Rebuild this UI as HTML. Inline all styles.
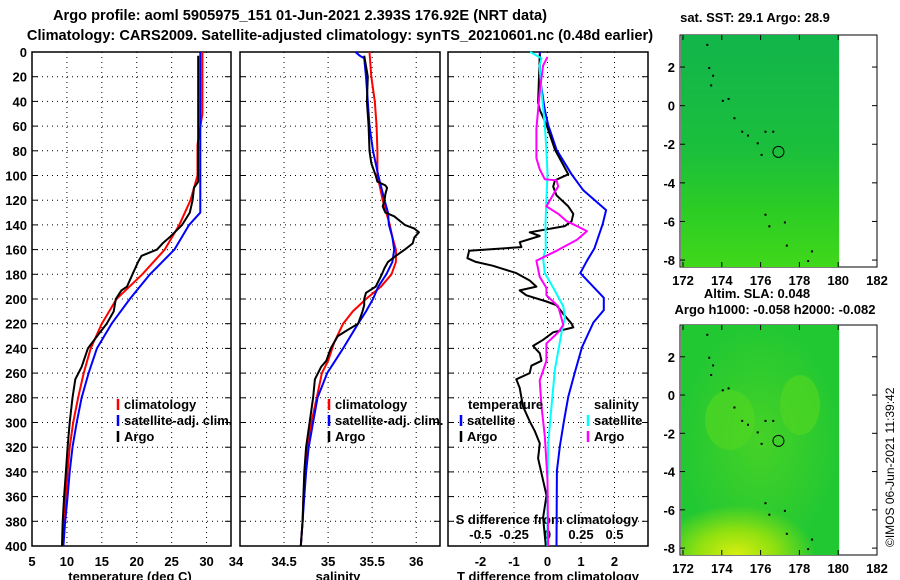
<!DOCTYPE html>
<html><head><meta charset="utf-8"><style>
body{margin:0;background:#fff}
svg{display:block;font-family:"Liberation Sans",sans-serif;font-weight:bold}
text{font-size:13px;fill:#000}
text.ttl{font-size:14.6px}
</style></head><body>
<svg id="s" width="900" height="580" viewBox="0 0 900 580">
<defs>
<linearGradient id="g1" x1="0" y1="0" x2="0" y2="1"><stop offset="0" stop-color="#12b54a"/><stop offset="0.5" stop-color="#1bbf3c"/><stop offset="0.75" stop-color="#2ccc25"/><stop offset="1" stop-color="#40d81a"/></linearGradient>
<radialGradient id="y2" cx="0.35" cy="1" r="0.5"><stop offset="0" stop-color="#d8ee10"/><stop offset="0.5" stop-color="#8fe010"/><stop offset="1" stop-color="#8fe010" stop-opacity="0"/></radialGradient>
<radialGradient id="y3" cx="0.5" cy="0.5" r="0.5"><stop offset="0" stop-color="#5ed820"/><stop offset="1" stop-color="#5ed820" stop-opacity="0"/></radialGradient>
</defs>
<text class="ttl" x="300" y="20" text-anchor="middle">Argo profile: aoml 5905975_151 01-Jun-2021 2.393S 176.92E (NRT data)</text>
<text class="ttl" x="340" y="40" text-anchor="middle">Climatology: CARS2009. Satellite-adjusted climatology: synTS_20210601.nc (0.48d earlier)</text>
<g id="plots"></g>
</svg>
<script>
// Temperature panel data
const tDepthClim=[0,50,75,100,120,140,160,180,200,220,240,260,280,300,320,340,360,380,400];
const tClim=[29.4,29.4,28.7,28.7,27.7,26.1,24.0,20.8,17.1,15.0,13.4,12.4,11.6,10.9,10.4,10.1,9.85,9.6,9.4];
const tDepthSat=[0,130,140,160,180,200,220,240,260,280,300,320,340,360,380,400];
const tSat=[29.1,29.1,27.5,25.4,21.9,19.0,16.4,14.3,13.1,12.1,11.4,10.8,10.4,10.1,9.75,9.5];
const tDepthArgo=[3,105,110,120,130,140,150,155,160,165,170,180,190,193,200,210,220,228,240,255,265,280,300,320,340,360,380,400];
const tArgo=[28.8,28.8,28.2,28.0,27.6,26.5,24.7,23.7,22.9,20.7,20.2,19.4,18.6,17.8,17.0,16.7,15.7,14.6,13.0,12.1,11.2,10.8,10.4,10.1,9.85,9.6,9.4,9.3];
// Salinity panel data
const sDepthClim=[0,20,40,60,80,100,110,120,140,150,160,170,180,190,200,210,220,235,250,260,280,300,320,340,360,380,400];
const sClim=[35.47,35.49,35.53,35.55,35.56,35.56,35.59,35.62,35.70,35.73,35.77,35.77,35.72,35.60,35.43,35.28,35.17,35.07,35.0,34.93,34.87,34.81,34.77,34.74,34.72,34.71,34.69];
const sDepthSat=[0,3,5,20,40,60,80,100,120,130,140,150,160,170,180,190,200,210,220,240,260,280,300,320,340,360,380,400];
const sSat=[35.31,35.36,35.41,35.43,35.45,35.47,35.51,35.57,35.64,35.68,35.69,35.73,35.75,35.73,35.66,35.57,35.51,35.43,35.34,35.17,34.99,34.88,34.83,34.78,34.75,34.73,34.71,34.69];
const sDepthArgo=[3,20,40,60,80,90,100,105,108,110,115,120,125,130,133,140,143,146,150,155,160,165,170,175,180,190,195,200,205,210,220,226,230,240,250,255,265,280,300,320,340,360,380,400];
const sArgo=[35.41,35.45,35.44,35.46,35.47,35.49,35.54,35.56,35.65,35.67,35.65,35.64,35.62,35.65,35.75,35.87,35.98,36.03,35.98,35.96,35.87,35.77,35.68,35.64,35.61,35.54,35.43,35.41,35.41,35.39,35.34,35.20,35.11,35.03,34.98,34.92,34.85,34.83,34.79,34.75,34.73,34.72,34.71,34.69];
// Difference panel data
const dDepthTSat=[0,20,40,47,59,79,99,112,128,139,159,169,179,199,209,219,239,259,279,299,319,339,400];
const dTSat=[-0.23,-0.23,-0.12,-0.08,0.02,0.27,0.72,1.07,1.75,1.65,1.4,1.18,0.98,1.68,1.68,1.37,1.03,0.82,0.62,0.49,0.37,0.28,0.27];
const dDepthTArgo=[2,41,47,59,79,89,99,104,109,116,125,131,137,141,146,149,154,158,161,167,170,173,179,185,190,193,197,202,205,212,220,223,227,233,238,244,250,254,260,265,272,287,299,307,317,329,347,359,377,400];
const dTArgo=[-0.23,-0.28,-0.23,-0.03,0.22,0.42,0.62,0.22,0.17,0.27,0.62,0.77,0.72,0.52,-0.53,-0.23,-0.83,-0.78,-2.34,-2.39,-2.14,-1.64,-0.93,-0.53,-0.33,-0.83,-0.63,-0.03,0.27,0.47,0.72,0.77,0.17,-0.13,-0.43,-0.23,-0.18,-0.48,-0.53,-0.93,-0.83,-0.73,-0.53,-0.38,-0.23,-0.28,-0.13,-0.03,-0.13,-0.05];
const dDepthSSat=[0,5,11,32,59,79,99,119,139,159,167,179,191,206,215,227,257,287,317,347,400];
const dSSat=[-0.13,-0.045,-0.06,-0.045,-0.02,-0.008,0,-0.008,-0.015,-0.013,-0.033,-0.02,0.043,0.118,0.13,0.105,0.055,0.03,0.005,0,0];
const dDepthSArgo=[4,11,32,47,62,86,95,103,104,109,113,125,131,137,141,145,152,161,169,182,191,197,206,221,227,236,250,266,287,311,332,347,400];
const dSArgo=[0,-0.033,-0.058,-0.07,-0.083,-0.083,-0.058,-0.02,0.068,0.08,0.055,-0.008,0.08,0.143,0.22,0.294,0.22,0.068,-0.083,-0.058,-0.008,-0.008,0.08,0.118,0.08,-0.008,-0.008,-0.058,-0.045,-0.02,-0.008,0,0.005];
const depthTicks=[0,20,40,60,80,100,120,140,160,180,200,220,240,260,280,300,320,340,360,380,400];
const tTicks=[5,10,15,20,25,30];
const sTicks=[34.5,35,35.5,36];
const dTTicks=[-2,-1,0,1,2];
const dSTicks=[-0.5,-0.25,0,0.25,0.5];

const NS='http://www.w3.org/2000/svg';
const G=document.getElementById('plots');
function el(tag,attrs,parent){const e=document.createElementNS(NS,tag);for(const k in attrs)e.setAttribute(k,attrs[k]);(parent||G).appendChild(e);return e;}
const Y0=52,Y1=546;
function yOf(d){return Y0+d*(Y1-Y0)/400;}
function sc(d0,d1,p0,p1){return v=>p0+(v-d0)*(p1-p0)/(d1-d0);}
const xT=sc(5,33.5,32,231), xS=sc(34,36.27,240,440), xD=sc(-2.97,3.0,448,648), xDS=v=>xD(v*4);

function frame(x0,x1,name){
  const r=el('rect',{x:x0,y:Y0,width:x1-x0,height:Y1-Y0,fill:'none',stroke:'#000','stroke-width':1.5});
  
  
  depthTicks.forEach(d=>{if(d>0&&d<400){const l=el('line',{x1:x0,x2:x1,y1:yOf(d),y2:yOf(d),stroke:'#000','stroke-dasharray':'1,4'});
    
    
    el('line',{x1:x0,x2:x0+6,y1:yOf(d),y2:yOf(d),stroke:'#000'});el('line',{x1:x1-6,x2:x1,y1:yOf(d),y2:yOf(d),stroke:'#000'});}});
}
function vgrid(ticks,fx){ticks.forEach(v=>{const l=el('line',{x1:fx(v),x2:fx(v),y1:Y0,y2:Y1,stroke:'#000','stroke-dasharray':'1,4'});
  
  });}
function txt(x,y,s,anchor,name){const t=el('text',{x:x,y:y,'text-anchor':anchor||'start'});t.textContent=s;
  
  return t;}
function series(depths,vals,fx,color,name){
  const pts=depths.map((d,i)=>fx(vals[i]).toFixed(1)+','+yOf(d).toFixed(1)).join(' ');
  const p=el('polyline',{points:pts,fill:'none',stroke:color,'stroke-width':2,'stroke-linejoin':'round'});
  
  
}
// panel 1
frame(32,231,'temperature-panel');vgrid(tTicks.slice(1),xT);
depthTicks.forEach(d=>txt(27,yOf(d)+5,String(d),'end','depth-tick-label'));
tTicks.forEach(v=>txt(xT(v),566,String(v),'middle','temp-tick-label'));
txt(236,566,'34','middle','sal-tick-label');
txt(130,581,'temperature (deg C)','middle','temp-axis-title');
series(tDepthClim,tClim,xT,'#f00','temp-climatology-line');
series(tDepthSat,tSat,xT,'#00f','temp-satellite-line');
series(tDepthArgo,tArgo,xT,'#000','temp-argo-line');
// panel 2
frame(240,440,'salinity-panel');vgrid(sTicks,xS);
sTicks.forEach(v=>txt(xS(v),566,String(v),'middle','sal-tick-label'));
txt(338,581,'salinity','middle','sal-axis-title');
series(sDepthClim,sClim,xS,'#f00','sal-climatology-line');
series(sDepthSat,sSat,xS,'#00f','sal-satellite-line');
series(sDepthArgo,sArgo,xS,'#000','sal-argo-line');
// legends
function leg(x,y,color,label){el('line',{x1:x,x2:x,y1:y-10,y2:y+1,stroke:color,'stroke-width':2.5});txt(x+6,y,label,'start','legend-entry');}
[[118],[329]].forEach(([x])=>{leg(x,409,'#f00','climatology');leg(x,425,'#00f','satellite-adj. clim.');leg(x,441,'#000','Argo');});
// panel 3
frame(448,648,'difference-panel');vgrid(dTTicks,xD);
dTTicks.forEach(v=>txt(xD(v),566,String(v),'middle','dT-tick-label'));
txt(548,581,'T difference from climatology','middle','dT-axis-title');
txt(547,524,'S difference from climatology','middle','dS-axis-title');
dSTicks.forEach(v=>txt(xDS(v),539,String(v),'middle','dS-tick-label'));
series(dDepthTSat,dTSat,xD,'#00f','dT-satellite-line');
series(dDepthTArgo,dTArgo,xD,'#000','dT-argo-line');
series(dDepthSSat,dSSat,xDS,'#0ff','dS-satellite-line');
series(dDepthSArgo,dSArgo,xDS,'#f0f','dS-argo-line');
txt(468,409,'temperature','start','legend-title-temperature');
txt(594,409,'salinity','start','legend-title-salinity');
leg(461,425,'#00f','satellite');leg(461,441,'#000','Argo');
leg(588,425,'#0ff','satellite');leg(588,441,'#f0f','Argo');
// maps
const mx=sc(172,182,683,877);
function map(top,bot,latTop,latBot,fill,name){
  const my=sc(latTop,latBot,top,bot);
  const g=el('g',{});
  
  
  el('rect',{x:680,y:top,width:197,height:bot-top,fill:'#fff',stroke:'#000','stroke-width':1},g);
  fill(g,mx(180.05)-681,bot-top);
  [172,174,176,178,180,182].forEach(v=>{el('line',{x1:mx(v),x2:mx(v),y1:bot,y2:bot-5,stroke:'#000'},g);el('line',{x1:mx(v),x2:mx(v),y1:top,y2:top+5,stroke:'#000'},g);txt(mx(v),bot+18,String(v),'middle','lon-tick-label');});
  [2,0,-2,-4,-6,-8].forEach(v=>{el('line',{x1:680,x2:685,y1:my(v),y2:my(v),stroke:'#000'},g);el('line',{x1:872,x2:877,y1:my(v),y2:my(v),stroke:'#000'},g);txt(675,my(v)+5,String(v),'end','lat-tick-label');});
  [[173.2,3.2],[173.3,2],[173.5,1.6],[173.4,1.1],[174,0.3],[174.3,0.4],[174.6,-0.6],[175,-1.3],[175.3,-1.5],[175.8,-1.9],[176,-2.5],[176.2,-1.3],[176.6,-1.3],[176.2,-5.6],[176.4,-6.2],[177.3,-7.2],[177.2,-6],[178.6,-7.5],[178.4,-8]].forEach(([lo,la])=>el('rect',{x:mx(lo),y:my(la),width:2,height:2,fill:'#000'},g));
  el('circle',{cx:mx(176.92),cy:my(-2.393),r:5.5,fill:'none',stroke:'#000'},g);
}
map(35,267,3.66,-8.36,(g,w,h)=>{el('rect',{x:681,y:35,width:w,height:h,fill:'url(#g1)'},g);},'sst-map');
txt(755,22,'sat. SST: 29.1 Argo: 28.9','middle','sst-map-title');
map(325,555,3.66,-8.36,(g,w,h)=>{el('rect',{x:681,y:325,width:w,height:h,fill:'#22c832'},g);
  el('rect',{x:681,y:325,width:w,height:h,fill:'url(#y3)',opacity:0.6},g);
  el('ellipse',{cx:730,cy:420,rx:25,ry:30,fill:'#50d622',opacity:0.7},g);
  el('ellipse',{cx:800,cy:405,rx:20,ry:30,fill:'#50d622',opacity:0.7},g);
  el('rect',{x:681,y:455,width:w,height:100,fill:'url(#y2)'},g);},'sla-map');
txt(757,298,'Altim. SLA: 0.048','middle','sla-map-title');
txt(775,314,'Argo h1000: -0.058 h2000: -0.082','middle','sla-map-subtitle');
const c=txt(0,0,'©IMOS 06-Jun-2021 11:39:42','start','timestamp-credit');
c.setAttribute('transform','translate(894,547) rotate(-90)');c.setAttribute('style','font-weight:normal;font-size:12px');
</script>
</body></html>
